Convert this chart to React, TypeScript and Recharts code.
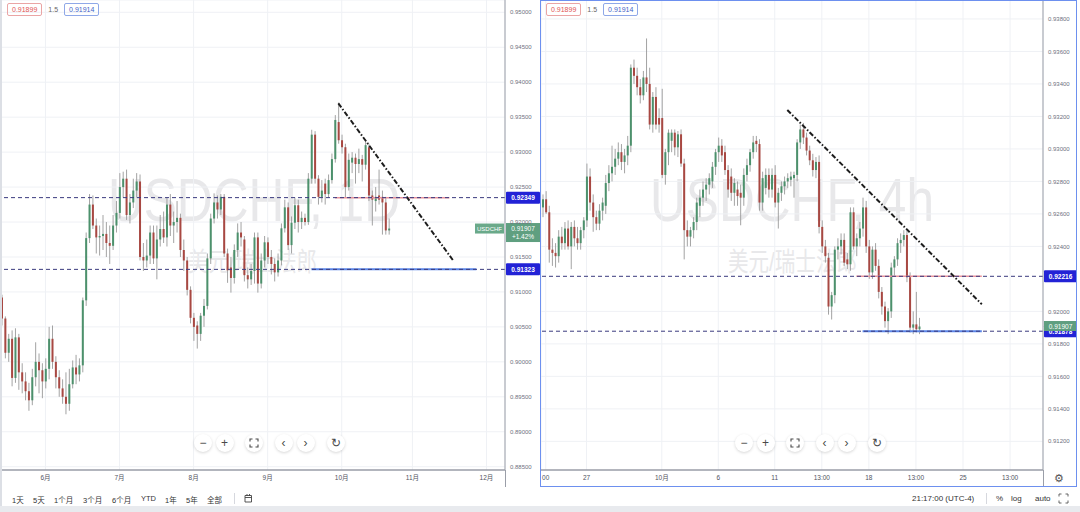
import React from 'react';
import { ComposedChart, Bar, Line, XAxis, YAxis, CartesianGrid, ReferenceLine } from 'recharts';

type Ohlc = [number, number, number, number];
type Pt = [number, number];

// USDCHF daily, [open, high, low, close]
const dailyCandles: Ohlc[] = [
  [0.9092, 0.9096, 0.9052, 0.9062], [0.9062, 0.9065, 0.9005, 0.9013], [0.9013, 0.9040, 0.9000, 0.9033], [0.9033, 0.9045, 0.8965, 0.8977],
  [0.8977, 0.9048, 0.8970, 0.9035], [0.9035, 0.9040, 0.8960, 0.8985], [0.8985, 0.8998, 0.8955, 0.8972], [0.8972, 0.8985, 0.8945, 0.8958],
  [0.8958, 0.8970, 0.8930, 0.8945], [0.8945, 0.8990, 0.8938, 0.8978], [0.8978, 0.9028, 0.8965, 0.9000], [0.9000, 0.9012, 0.8955, 0.8988],
  [0.8988, 0.8998, 0.8948, 0.8972], [0.8972, 0.9005, 0.8962, 0.8990], [0.8990, 0.9050, 0.8975, 0.9033], [0.9033, 0.9052, 0.8990, 0.9000],
  [0.9000, 0.9008, 0.8962, 0.8978], [0.8978, 0.8988, 0.8950, 0.8962], [0.8962, 0.8975, 0.8940, 0.8950], [0.8950, 0.8985, 0.8925, 0.8940],
  [0.8940, 0.8990, 0.8930, 0.8968], [0.8968, 0.9002, 0.8962, 0.8992], [0.8992, 0.9010, 0.8968, 0.8982], [0.8982, 0.9005, 0.8972, 0.8995],
  [0.8995, 0.9092, 0.8985, 0.9088], [0.9088, 0.9185, 0.9080, 0.9177], [0.9177, 0.9240, 0.9170, 0.9225], [0.9225, 0.9238, 0.9190, 0.9195],
  [0.9195, 0.9205, 0.9155, 0.9178], [0.9178, 0.9195, 0.9152, 0.9180], [0.9180, 0.9210, 0.9160, 0.9183], [0.9183, 0.9200, 0.9150, 0.9170],
  [0.9170, 0.9195, 0.9140, 0.9166], [0.9166, 0.9210, 0.9160, 0.9195], [0.9195, 0.9230, 0.9185, 0.9213], [0.9213, 0.9270, 0.9205, 0.9250],
  [0.9250, 0.9272, 0.9235, 0.9262], [0.9262, 0.9275, 0.9203, 0.9210], [0.9210, 0.9240, 0.9198, 0.9228], [0.9228, 0.9262, 0.9220, 0.9245],
  [0.9245, 0.9270, 0.9235, 0.9258], [0.9258, 0.9268, 0.9145, 0.9150], [0.9150, 0.9170, 0.9130, 0.9145], [0.9145, 0.9175, 0.9135, 0.9152],
  [0.9152, 0.9195, 0.9140, 0.9185], [0.9185, 0.9195, 0.9140, 0.9148], [0.9148, 0.9195, 0.9118, 0.9175], [0.9175, 0.9210, 0.9165, 0.9190],
  [0.9190, 0.9215, 0.9170, 0.9178], [0.9178, 0.9235, 0.9165, 0.9225], [0.9225, 0.9240, 0.9180, 0.9195], [0.9195, 0.9215, 0.9170, 0.9200],
  [0.9200, 0.9230, 0.9185, 0.9206], [0.9206, 0.9212, 0.9150, 0.9160], [0.9160, 0.9175, 0.9130, 0.9145], [0.9145, 0.9150, 0.9095, 0.9103],
  [0.9103, 0.9108, 0.9055, 0.9063], [0.9063, 0.9070, 0.9030, 0.9050], [0.9052, 0.9058, 0.9019, 0.9040], [0.9040, 0.9070, 0.9030, 0.9066],
  [0.9066, 0.9090, 0.9050, 0.9080], [0.9080, 0.9155, 0.9075, 0.9148], [0.9148, 0.9212, 0.9140, 0.9205], [0.9205, 0.9241, 0.9198, 0.9228],
  [0.9228, 0.9238, 0.9205, 0.9218], [0.9218, 0.9240, 0.9210, 0.9236], [0.9236, 0.9240, 0.9150, 0.9155], [0.9155, 0.9162, 0.9113, 0.9131],
  [0.9135, 0.9150, 0.9099, 0.9120], [0.9120, 0.9168, 0.9112, 0.9160], [0.9160, 0.9198, 0.9150, 0.9185], [0.9185, 0.9200, 0.9165, 0.9178],
  [0.9175, 0.9180, 0.9115, 0.9124], [0.9124, 0.9135, 0.9105, 0.9118], [0.9118, 0.9140, 0.9110, 0.9130], [0.9130, 0.9185, 0.9112, 0.9178],
  [0.9178, 0.9185, 0.9099, 0.9112], [0.9112, 0.9155, 0.9105, 0.9145], [0.9145, 0.9180, 0.9135, 0.9171], [0.9171, 0.9178, 0.9140, 0.9150],
  [0.9150, 0.9160, 0.9125, 0.9140], [0.9140, 0.9148, 0.9115, 0.9128], [0.9128, 0.9155, 0.9122, 0.9145], [0.9145, 0.9198, 0.9138, 0.9191],
  [0.9191, 0.9232, 0.9185, 0.9221], [0.9221, 0.9228, 0.9160, 0.9167], [0.9167, 0.9208, 0.9155, 0.9199], [0.9199, 0.9235, 0.9190, 0.9224],
  [0.9224, 0.9232, 0.9185, 0.9200], [0.9200, 0.9215, 0.9190, 0.9206], [0.9206, 0.9212, 0.9195, 0.9200], [0.9200, 0.9270, 0.9196, 0.9262],
  [0.9262, 0.9332, 0.9255, 0.9325], [0.9325, 0.9330, 0.9255, 0.9262], [0.9262, 0.9267, 0.9225, 0.9236], [0.9236, 0.9260, 0.9228, 0.9245],
  [0.9255, 0.9262, 0.9225, 0.9240], [0.9240, 0.9268, 0.9235, 0.9260], [0.9260, 0.9298, 0.9255, 0.9290], [0.9290, 0.9353, 0.9285, 0.9346],
  [0.9343, 0.9371, 0.9312, 0.9317], [0.9317, 0.9325, 0.9298, 0.9307], [0.9307, 0.9312, 0.9235, 0.9250], [0.9250, 0.9298, 0.9245, 0.9289],
  [0.9285, 0.9300, 0.9270, 0.9292], [0.9292, 0.9298, 0.9255, 0.9283], [0.9283, 0.9305, 0.9270, 0.9290], [0.9290, 0.9296, 0.9258, 0.9282],
  [0.9282, 0.9318, 0.9275, 0.9310], [0.9307, 0.9312, 0.9230, 0.9238], [0.9238, 0.9245, 0.9195, 0.9232], [0.9230, 0.9250, 0.9215, 0.9236],
  [0.9238, 0.9275, 0.9225, 0.9232], [0.9236, 0.9245, 0.9182, 0.9228], [0.9228, 0.9236, 0.9182, 0.9188], [0.9188, 0.9205, 0.9182, 0.91907],
];

// USDCHF 4h, [open, high, low, close]
const h4Candles: Ohlc[] = [
  [0.9264, 0.9272, 0.9258, 0.9269], [0.9269, 0.9274, 0.9260, 0.9261], [0.9261, 0.9265, 0.9230, 0.9238], [0.9238, 0.9245, 0.9228, 0.9236],
  [0.9236, 0.9242, 0.9227, 0.9234], [0.9234, 0.9250, 0.9230, 0.9246], [0.9246, 0.9252, 0.9238, 0.9242], [0.9242, 0.9255, 0.9238, 0.9251],
  [0.9251, 0.9256, 0.9238, 0.9240], [0.9240, 0.9255, 0.9226, 0.9252], [0.9252, 0.9256, 0.9240, 0.9245], [0.9245, 0.9252, 0.9238, 0.9242],
  [0.9242, 0.9252, 0.9238, 0.9250], [0.9250, 0.9258, 0.9245, 0.9256], [0.9256, 0.9291, 0.9252, 0.9283], [0.9283, 0.9288, 0.9262, 0.9267],
  [0.9267, 0.9272, 0.9249, 0.9258], [0.9258, 0.9262, 0.9250, 0.9254], [0.9254, 0.9266, 0.9250, 0.9262], [0.9262, 0.9270, 0.9256, 0.9267],
  [0.9265, 0.9284, 0.9260, 0.9279], [0.9279, 0.9290, 0.9274, 0.9285], [0.9285, 0.9302, 0.9280, 0.9289], [0.9289, 0.9300, 0.9284, 0.9294],
  [0.9294, 0.9304, 0.9290, 0.9298], [0.9298, 0.9303, 0.9287, 0.9292], [0.9292, 0.9300, 0.9285, 0.9296], [0.9296, 0.9308, 0.9290, 0.9302],
  [0.9302, 0.9352, 0.9298, 0.9350], [0.9350, 0.9355, 0.9340, 0.9345], [0.9345, 0.9350, 0.9333, 0.9338], [0.9338, 0.9343, 0.9328, 0.9333],
  [0.9333, 0.9348, 0.9330, 0.9344], [0.9344, 0.9368, 0.9335, 0.9340], [0.9340, 0.9350, 0.9312, 0.9315], [0.9315, 0.9335, 0.9310, 0.9332],
  [0.9332, 0.9338, 0.9312, 0.9315], [0.9319, 0.9325, 0.9310, 0.9315], [0.9319, 0.9337, 0.9282, 0.9284], [0.9284, 0.9300, 0.9278, 0.9298],
  [0.9298, 0.9312, 0.9290, 0.9310], [0.9305, 0.9312, 0.9298, 0.9310], [0.9310, 0.9312, 0.9296, 0.9301], [0.9301, 0.9311, 0.9295, 0.9309],
  [0.9309, 0.9312, 0.9289, 0.9291], [0.9291, 0.9294, 0.9232, 0.9250], [0.9250, 0.9256, 0.9240, 0.9246], [0.9246, 0.9252, 0.9240, 0.9250],
  [0.9250, 0.9258, 0.9245, 0.9255], [0.9255, 0.9270, 0.9250, 0.9267], [0.9265, 0.9275, 0.9258, 0.9270], [0.9270, 0.9280, 0.9265, 0.9275],
  [0.9275, 0.9282, 0.9268, 0.9278], [0.9278, 0.9285, 0.9272, 0.9282], [0.9280, 0.9292, 0.9276, 0.9289], [0.9289, 0.9300, 0.9284, 0.9298],
  [0.9298, 0.9307, 0.9292, 0.9302], [0.9302, 0.9306, 0.9292, 0.9296], [0.9298, 0.9302, 0.9284, 0.9287], [0.9287, 0.9290, 0.9270, 0.9275],
  [0.9283, 0.9288, 0.9268, 0.9273], [0.9273, 0.9282, 0.9265, 0.9279], [0.9275, 0.9280, 0.9265, 0.9271], [0.9273, 0.9278, 0.9253, 0.9270],
  [0.9270, 0.9288, 0.9265, 0.9284], [0.9284, 0.9294, 0.9280, 0.9290], [0.9290, 0.9300, 0.9286, 0.9298], [0.9298, 0.9308, 0.9294, 0.9304],
  [0.9305, 0.9308, 0.9298, 0.9303], [0.9303, 0.9306, 0.9262, 0.9267], [0.9267, 0.9286, 0.9262, 0.9282], [0.9276, 0.9288, 0.9272, 0.9284],
  [0.9284, 0.9288, 0.9270, 0.9275], [0.9275, 0.9288, 0.9270, 0.9284], [0.9284, 0.9290, 0.9264, 0.9267], [0.9267, 0.9276, 0.9251, 0.9273],
  [0.9273, 0.9280, 0.9268, 0.9277], [0.9277, 0.9283, 0.9272, 0.9280], [0.9280, 0.9285, 0.9276, 0.9282], [0.9281, 0.9286, 0.9277, 0.9283],
  [0.9282, 0.9286, 0.9270, 0.9284], [0.9284, 0.9306, 0.9280, 0.9304], [0.9304, 0.9315, 0.9300, 0.9312], [0.9312, 0.9316, 0.9303, 0.9307],
  [0.9307, 0.9310, 0.9296, 0.9299], [0.9299, 0.9302, 0.9290, 0.9293], [0.9293, 0.9297, 0.9283, 0.9287], [0.9287, 0.9295, 0.9282, 0.9292],
  [0.9292, 0.9296, 0.9248, 0.9252], [0.9252, 0.9256, 0.9236, 0.9240], [0.9240, 0.9244, 0.9230, 0.9234], [0.9233, 0.9236, 0.9198, 0.9203],
  [0.9203, 0.9212, 0.9195, 0.9210], [0.9210, 0.9240, 0.9205, 0.9238], [0.9238, 0.9245, 0.9232, 0.9240], [0.9240, 0.9248, 0.9235, 0.9244],
  [0.9244, 0.9248, 0.9228, 0.9230], [0.9232, 0.9236, 0.9226, 0.9229], [0.9229, 0.9264, 0.9225, 0.9261], [0.9261, 0.9264, 0.9238, 0.9240],
  [0.9240, 0.9248, 0.9234, 0.9245], [0.9245, 0.9255, 0.9240, 0.9251], [0.9251, 0.9270, 0.9246, 0.9264], [0.9264, 0.9268, 0.9236, 0.9240],
  [0.9240, 0.9244, 0.9220, 0.9224], [0.9224, 0.9240, 0.9220, 0.9238], [0.9238, 0.9242, 0.9225, 0.9228], [0.9228, 0.9232, 0.9208, 0.9212],
  [0.9212, 0.9215, 0.9198, 0.9203], [0.9203, 0.9206, 0.9190, 0.9194], [0.9194, 0.9202, 0.9186, 0.9200], [0.9200, 0.9230, 0.9196, 0.9227],
  [0.9227, 0.9234, 0.9222, 0.9232], [0.9232, 0.9245, 0.9228, 0.9242], [0.9242, 0.9248, 0.9236, 0.9244], [0.9244, 0.9250, 0.9240, 0.9247],
  [0.9247, 0.9250, 0.9218, 0.9221], [0.9221, 0.9224, 0.9187, 0.9190], [0.9190, 0.9200, 0.9186, 0.9192], [0.9192, 0.9212, 0.9187, 0.9189],
  [0.9189, 0.9196, 0.9186, 0.91907],
];

const dailySlots = 150;
const h4Slots = 160;

const dailyMonthTicks = [13, 35, 57, 79, 101, 122, 144];
const dailyMonthLabels = ['6月', '7月', '8月', '9月', '10月', '11月', '12月'];
const h4DayTicks = [1, 14, 38, 56, 74, 89, 104, 119, 134, 149];
const h4DayLabels = ['00', '27', '10月', '6', '11', '13:00', '18', '13:00', '25', '13:00'];

const dailyPriceTicks = [0.885, 0.89, 0.895, 0.9, 0.905, 0.91, 0.915, 0.92, 0.925, 0.93, 0.935, 0.94, 0.945, 0.95];
// 0.92200 sits under the 0.92216 price tag, so it is left out
const h4PriceTicks = [0.912, 0.914, 0.916, 0.918, 0.92, 0.924, 0.926, 0.928, 0.93, 0.932, 0.934, 0.936, 0.938];
const dailyDomain: [number, number] = [0.88453, 0.95176];
const h4Domain: [number, number] = [0.910237, 0.939167];

const dailyLevels = [0.92349, 0.91323];
const h4Levels = [0.92216, 0.91878];
const lastPrice = 0.91907;
const dailyChange = '+1.42%';
const legendValues = ['0.91899', '1.5', '0.91914'];

const dailyTrend: Pt[] = [[100, 0.93698], [134, 0.91457]];
const dailyRedRay: Pt[] = [[99, 0.92349], [133, 0.92349]];
const dailyBlueRay: Pt[] = [[92, 0.91323], [141, 0.91323]];
const h4Trend: Pt[] = [[78, 0.9324], [140, 0.92044]];
const h4RedRay: Pt[] = [[100, 0.92216], [140, 0.92216]];
const h4BlueRay: Pt[] = [[102, 0.91878], [140, 0.91878]];

const FONT = '"Liberation Sans", Arial, "Noto Sans CJK SC", sans-serif';
const UP = '#4c916c';
const DOWN = '#a84842';
const WICK = '#999999';
const TAG_BLUE = '#2222d6';
const TAG_GREEN = '#5f9f80';

const pick = (seg: Pt[], i: number) => {
  const p = seg.find((s) => s[0] === i);
  return p ? p[1] : null;
};

const buildRows = (candles: Ohlc[], slots: number, trend: Pt[], red: Pt[], blue: Pt[]) =>
  Array.from({ length: slots }, (_, i) => {
    const k = candles[i];
    return {
      i,
      o: k ? k[0] : null,
      h: k ? k[1] : null,
      l: k ? k[2] : null,
      c: k ? k[3] : null,
      trend: pick(trend, i),
      red: pick(red, i),
      blue: pick(blue, i),
    };
  });

const dailyRows = buildRows(dailyCandles, dailySlots, dailyTrend, dailyRedRay, dailyBlueRay);
const h4Rows = buildRows(h4Candles, h4Slots, h4Trend, h4RedRay, h4BlueRay);

const Candle = (props: any) => {
  const { x, y, width, height, payload } = props;
  if (!payload || payload.h == null) return null;
  const { o, h, l, c } = payload;
  const top = Math.min(y, y + height);
  const span = Math.abs(height);
  const k = h === l ? 0 : span / (h - l);
  const yo = top + (h - o) * k;
  const yc = top + (h - c) * k;
  const cx = x + width / 2;
  return (
    <g>
      <line x1={cx} x2={cx} y1={top} y2={top + span} stroke={WICK} strokeWidth={0.9} />
      <rect x={x} y={Math.min(yo, yc)} width={width} height={Math.max(1, Math.abs(yc - yo))} fill={c >= o ? UP : DOWN} />
    </g>
  );
};

const PriceTag = (props: any) => {
  const { viewBox, text, fill, w } = props;
  if (!viewBox) return null;
  const x = viewBox.x + viewBox.width + 1;
  const y = viewBox.y;
  return (
    <g>
      <rect x={x} y={y - 6} width={w} height={12} fill={fill} rx={1} />
      <text x={x + w / 2} y={y + 2.3} textAnchor="middle" fontSize={6.5} fontWeight={700} fill="#fff" fontFamily={FONT}>
        {text}
      </text>
    </g>
  );
};

const LastTag = (props: any) => {
  const { viewBox, w, symbol, change } = props;
  if (!viewBox) return null;
  const right = viewBox.x + viewBox.width;
  const y = viewBox.y;
  return (
    <g fontFamily={FONT}>
      {symbol && (
        <g>
          <rect x={right - 30} y={y - 5} width={29} height={10} fill="#6aa98a" />
          <text x={right - 15.5} y={y + 2.2} textAnchor="middle" fontSize={6} fill="#fff">{symbol}</text>
        </g>
      )}
      <rect x={right + 1} y={y - 5.5} width={w} height={change ? 19 : 10} fill={TAG_GREEN} />
      <text x={right + 1 + w / 2} y={y + 2.2} textAnchor="middle" fontSize={6.5} fill="#fff">{lastPrice.toFixed(5)}</text>
      {change && (
        <text x={right + 1 + w / 2} y={y + 10.5} textAnchor="middle" fontSize={6.5} fill="#fff">{change}</text>
      )}
    </g>
  );
};

const Watermark = ({ title, tx, tw, cx, cw }: { title: string; tx: number; tw: number; cx: number; cw: number }) => (
  <svg width={540} height={487} style={{ position: 'absolute', left: 0, top: 0 }}>
    <text x={tx} y={221} fontSize={62} fill="#e8e8ea" fontFamily={FONT} textLength={tw} lengthAdjust="spacingAndGlyphs">
      {title}
    </text>
    <text x={cx} y={271} fontSize={26} fill="#e8e8ea" fontFamily={FONT} textLength={cw} lengthAdjust="spacingAndGlyphs">
      美元/瑞士法郎
    </text>
  </svg>
);

const navOffsets = [203, 224.5, 254, 283.5, 305.5, 335.5];
const navGlyphs = ['−', '+', 'fs', '‹', '›', '↻'];

const NavButtons = () => (
  <>
    {navOffsets.map((x, k) => (
      <div
        key={k}
        style={{
          position: 'absolute', left: x - 9, top: 434, width: 18, height: 18, borderRadius: 9,
          background: '#fff', boxShadow: '0 1px 3px rgba(0,0,0,0.16)', display: 'flex',
          alignItems: 'center', justifyContent: 'center', color: '#4a4a4a', fontSize: 12, lineHeight: '18px',
        }}
      >
        {navGlyphs[k] === 'fs' ? (
          <svg width={10} height={10}>
            <path d="M1 3.5V1H3.5M6.5 1H9V3.5M9 6.5V9H6.5M3.5 9H1V6.5" stroke="#4a4a4a" strokeWidth={1.1} fill="none" />
          </svg>
        ) : (
          navGlyphs[k]
        )}
      </div>
    ))}
  </>
);

const Legend = ({ left }: { left: number }) => (
  <div style={{ position: 'absolute', left, top: 3, display: 'flex', alignItems: 'center', fontSize: 7, fontFamily: FONT }}>
    <span style={{ border: '1px solid #eaa5a5', borderRadius: 2, color: '#e05656', padding: '1px 4px', lineHeight: '9px' }}>{legendValues[0]}</span>
    <span style={{ color: '#666', margin: '0 6px' }}>{legendValues[1]}</span>
    <span style={{ border: '1px solid #8fa8e8', borderRadius: 2, color: '#3f63c8', padding: '1px 4px', lineHeight: '9px' }}>{legendValues[2]}</span>
  </div>
);

type PanelProps = {
  rows: any[];
  width: number;
  axisWidth: number;
  domain: [number, number];
  priceTicks: number[];
  timeTicks: number[];
  timeLabels: string[];
  levels: number[];
  symbol?: string;
  change?: string;
};

const CandlePanel = ({ rows, width, axisWidth, domain, priceTicks, timeTicks, timeLabels, levels, symbol, change }: PanelProps) => (
  <ComposedChart width={width} height={487} data={rows} margin={{ top: 0, right: 0, bottom: 0, left: 0 }}>
    <CartesianGrid stroke="#eff1f5" strokeWidth={1} />
    <XAxis
      dataKey="i"
      type="category"
      ticks={timeTicks}
      interval={0}
      height={17}
      tickLine={false}
      tickSize={0}
      tickMargin={5}
      axisLine={{ stroke: '#6f7380' }}
      tick={{ fontSize: 6.5, fill: '#50535e', fontFamily: FONT }}
      tickFormatter={(v: number) => timeLabels[timeTicks.indexOf(v)] ?? ''}
    />
    <YAxis
      orientation="right"
      type="number"
      width={axisWidth}
      domain={domain}
      allowDataOverflow
      ticks={priceTicks}
      interval={0}
      tickLine={false}
      tickSize={0}
      tickMargin={5}
      axisLine={{ stroke: '#9a9ea8' }}
      tick={{ fontSize: 6, fill: '#6d7180', fontFamily: FONT }}
      tickFormatter={(v: number) => v.toFixed(5)}
    />
    <Bar
      dataKey={(d: any) => (d.h == null ? null : [d.l, d.h])}
      barSize={2}
      shape={Candle}
      isAnimationActive={false}
    />
    <Line dataKey="red" stroke="#e8939b" strokeWidth={1.5} dot={false} activeDot={false} connectNulls isAnimationActive={false} />
    <Line dataKey="blue" stroke="#5a84e6" strokeWidth={2} dot={false} activeDot={false} connectNulls isAnimationActive={false} />
    <Line
      dataKey="trend"
      stroke="#1d1d1d"
      strokeWidth={2}
      strokeDasharray="5 2 1.5 2"
      dot={false}
      activeDot={false}
      connectNulls
      isAnimationActive={false}
    />
    {levels.map((v) => (
      <ReferenceLine
        key={v}
        y={v}
        stroke="#3a3a7e"
        strokeDasharray="4 3"
        label={<PriceTag text={v.toFixed(5)} fill={TAG_BLUE} w={axisWidth - 1} />}
      />
    ))}
    <ReferenceLine
      y={lastPrice}
      stroke="none"
      strokeOpacity={0}
      label={<LastTag w={axisWidth - 1} symbol={symbol} change={change} />}
    />
  </ComposedChart>
);

export default function App() {
  return (
    <div style={{ position: 'fixed', left: 0, top: 0, width: 1080, height: 512, background: '#fff', overflow: 'hidden', fontFamily: FONT }}>
      {/* daily panel */}
      <div style={{ position: 'absolute', left: 0, top: 0, width: 540, height: 487 }}>
        <Watermark title="USDCHF, 1D" tx={108} tw={292} cx={188} cw={129} />
        <div style={{ position: 'absolute', left: 0, top: 0 }}>
          <CandlePanel
            rows={dailyRows}
            width={540}
            axisWidth={35}
            domain={dailyDomain}
            priceTicks={dailyPriceTicks}
            timeTicks={dailyMonthTicks}
            timeLabels={dailyMonthLabels}
            levels={dailyLevels}
            symbol="USDCHF"
            change={dailyChange}
          />
        </div>
        <Legend left={7} />
        <NavButtons />
        <div style={{ position: 'absolute', left: 505, top: 470, width: 1, height: 17, background: '#9a9ea8' }} />
      </div>

      {/* 4h panel */}
      <div style={{ position: 'absolute', left: 541, top: 0, width: 536, height: 487 }}>
        <Watermark title="USDCHF, 4h" tx={109} tw={284} cx={187} cw={129} />
        <div style={{ position: 'absolute', left: 0, top: 0 }}>
          <CandlePanel
            rows={h4Rows}
            width={536}
            axisWidth={34}
            domain={h4Domain}
            priceTicks={h4PriceTicks}
            timeTicks={h4DayTicks}
            timeLabels={h4DayLabels}
            levels={h4Levels}
          />
        </div>
        <Legend left={5} />
        <NavButtons />
        <div style={{ position: 'absolute', left: 502, top: 470, width: 1, height: 17, background: '#9a9ea8' }} />
        <div style={{ position: 'absolute', left: 513, top: 471, fontSize: 11, color: '#555', lineHeight: '14px' }}>⚙</div>
      </div>
      <div style={{ position: 'absolute', left: 540, top: 0, width: 535, height: 485, border: '1.5px solid #6d90ef', pointerEvents: 'none' }} />
      <div style={{ position: 'absolute', left: 0, top: 0, width: 1.5, height: 506, background: '#dcdfe5' }} />

      {/* bottom toolbar */}
      <div style={{ position: 'absolute', left: 0, top: 488, width: 1080, height: 18, fontSize: 7.5, color: '#333' }}>
        {['1天', '5天', '1个月', '3个月', '6个月', 'YTD', '1年', '5年', '全部'].map((t, k) => (
          <span key={t} style={{ position: 'absolute', left: [12, 33, 54, 83, 112, 141, 165, 186, 207][k], top: 6 }}>{t}</span>
        ))}
        <div style={{ position: 'absolute', left: 234, top: 5, width: 1, height: 11, background: '#d6d8de' }} />
        <svg style={{ position: 'absolute', left: 243, top: 5 }} width={11} height={11}>
          <path d="M2 2.5H8.5V9H2Z M2 4.5H8.5 M4 1V3 M6.5 1V3" stroke="#444" strokeWidth={0.9} fill="none" />
        </svg>
        <span style={{ position: 'absolute', left: 912, top: 5.5, fontSize: 8 }}>21:17:00 (UTC-4)</span>
        <div style={{ position: 'absolute', left: 986, top: 5, width: 1, height: 11, background: '#d6d8de' }} />
        <span style={{ position: 'absolute', left: 996, top: 5.5, fontSize: 8 }}>%</span>
        <span style={{ position: 'absolute', left: 1011, top: 5.5, fontSize: 8 }}>log</span>
        <span style={{ position: 'absolute', left: 1035, top: 5.5, fontSize: 8 }}>auto</span>
        <svg style={{ position: 'absolute', left: 1058, top: 5 }} width={11} height={11}>
          <path d="M1 3.5V1H3.5M7.5 1H10V3.5M10 7.5V10H7.5M3.5 10H1V7.5" stroke="#555" strokeWidth={0.9} fill="none" />
        </svg>
      </div>
      <div style={{ position: 'absolute', left: 0, top: 506, width: 1080, height: 6, background: '#e8eaee' }} />
    </div>
  );
}
